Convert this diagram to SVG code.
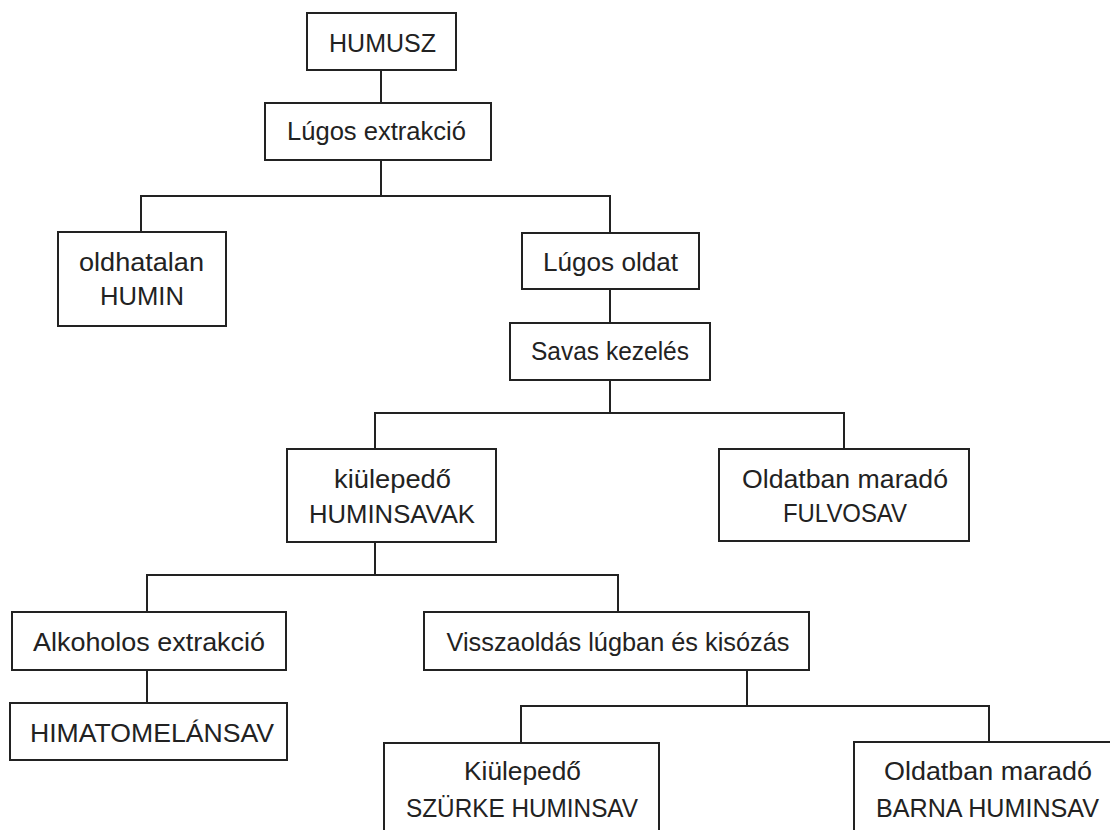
<svg xmlns="http://www.w3.org/2000/svg" width="1110" height="830" viewBox="0 0 1110 830">
<style>
.box{fill:#fff;stroke:#222;stroke-width:2}
.con{fill:none;stroke:#222;stroke-width:2}
text{font-family:"Liberation Sans",Arial,sans-serif;font-size:26px;fill:#222;text-anchor:middle}
</style>
<rect width="1110" height="830" fill="#fff"/>
<g id="connectors">
<polyline class="con" points="381,70 381,103"/>
<polyline class="con" points="381,160 381,196"/>
<polyline class="con" points="141,232 141,196 610,196 610,233"/>
<polyline class="con" points="610,289 610,323"/>
<polyline class="con" points="610,380 610,413"/>
<polyline class="con" points="375,449 375,413 844,413 844,449"/>
<polyline class="con" points="375,542 375,575"/>
<polyline class="con" points="147,612 147,575 618,575 618,612"/>
<polyline class="con" points="147,670 147,703"/>
<polyline class="con" points="747,670 747,706"/>
<polyline class="con" points="521,743 521,706 989,706 989,742"/>
</g>
<g id="humusz">
<rect class="box" x="307" y="13" width="149" height="57"/>
<text x="382.5" y="52" textLength="107" lengthAdjust="spacingAndGlyphs">HUMUSZ</text>
</g>
<g id="lugos-extrakcio">
<rect class="box" x="265" y="103" width="226" height="57"/>
<text x="376.5" y="140" textLength="179" lengthAdjust="spacingAndGlyphs">Lúgos extrakció</text>
</g>
<g id="humin">
<rect class="box" x="58" y="232" width="168" height="94"/>
<text x="141.5" y="271" textLength="125" lengthAdjust="spacingAndGlyphs">oldhatalan</text>
<text x="142" y="305" textLength="84" lengthAdjust="spacingAndGlyphs">HUMIN</text>
</g>
<g id="lugos-oldat">
<rect class="box" x="522" y="233" width="177" height="56"/>
<text x="610.5" y="271" textLength="135" lengthAdjust="spacingAndGlyphs">Lúgos oldat</text>
</g>
<g id="savas-kezeles">
<rect class="box" x="510" y="323" width="200" height="57"/>
<text x="610" y="360" textLength="158" lengthAdjust="spacingAndGlyphs">Savas kezelés</text>
</g>
<g id="huminsavak">
<rect class="box" x="287" y="449" width="209" height="93"/>
<text x="392.5" y="488" textLength="117" lengthAdjust="spacingAndGlyphs">kiülepedő</text>
<text x="392" y="523" textLength="166" lengthAdjust="spacingAndGlyphs">HUMINSAVAK</text>
</g>
<g id="fulvosav">
<rect class="box" x="719" y="449" width="250" height="92"/>
<text x="845" y="488" textLength="206" lengthAdjust="spacingAndGlyphs">Oldatban maradó</text>
<text x="845" y="522" textLength="124" lengthAdjust="spacingAndGlyphs">FULVOSAV</text>
</g>
<g id="alkoholos-extrakcio">
<rect class="box" x="12" y="612" width="274" height="58"/>
<text x="149" y="651" textLength="232" lengthAdjust="spacingAndGlyphs">Alkoholos extrakció</text>
</g>
<g id="himatomelansav">
<rect class="box" x="10" y="703" width="277" height="57"/>
<text x="152" y="742" textLength="244" lengthAdjust="spacingAndGlyphs">HIMATOMELÁNSAV</text>
</g>
<g id="visszaoldas">
<rect class="box" x="424" y="612" width="385" height="58"/>
<text x="618" y="651" textLength="343" lengthAdjust="spacingAndGlyphs">Visszaoldás lúgban és kisózás</text>
</g>
<g id="szurke-huminsav">
<rect class="box" x="384" y="743" width="275" height="93"/>
<text x="522.5" y="780" textLength="117" lengthAdjust="spacingAndGlyphs">Kiülepedő</text>
<text x="522" y="817" textLength="232" lengthAdjust="spacingAndGlyphs">SZÜRKE HUMINSAV</text>
</g>
<g id="barna-huminsav">
<rect class="box" x="854" y="742" width="268" height="93"/>
<text x="988" y="780" textLength="208" lengthAdjust="spacingAndGlyphs">Oldatban maradó</text>
<text x="987.5" y="817" textLength="223" lengthAdjust="spacingAndGlyphs">BARNA HUMINSAV</text>
</g>
</svg>
